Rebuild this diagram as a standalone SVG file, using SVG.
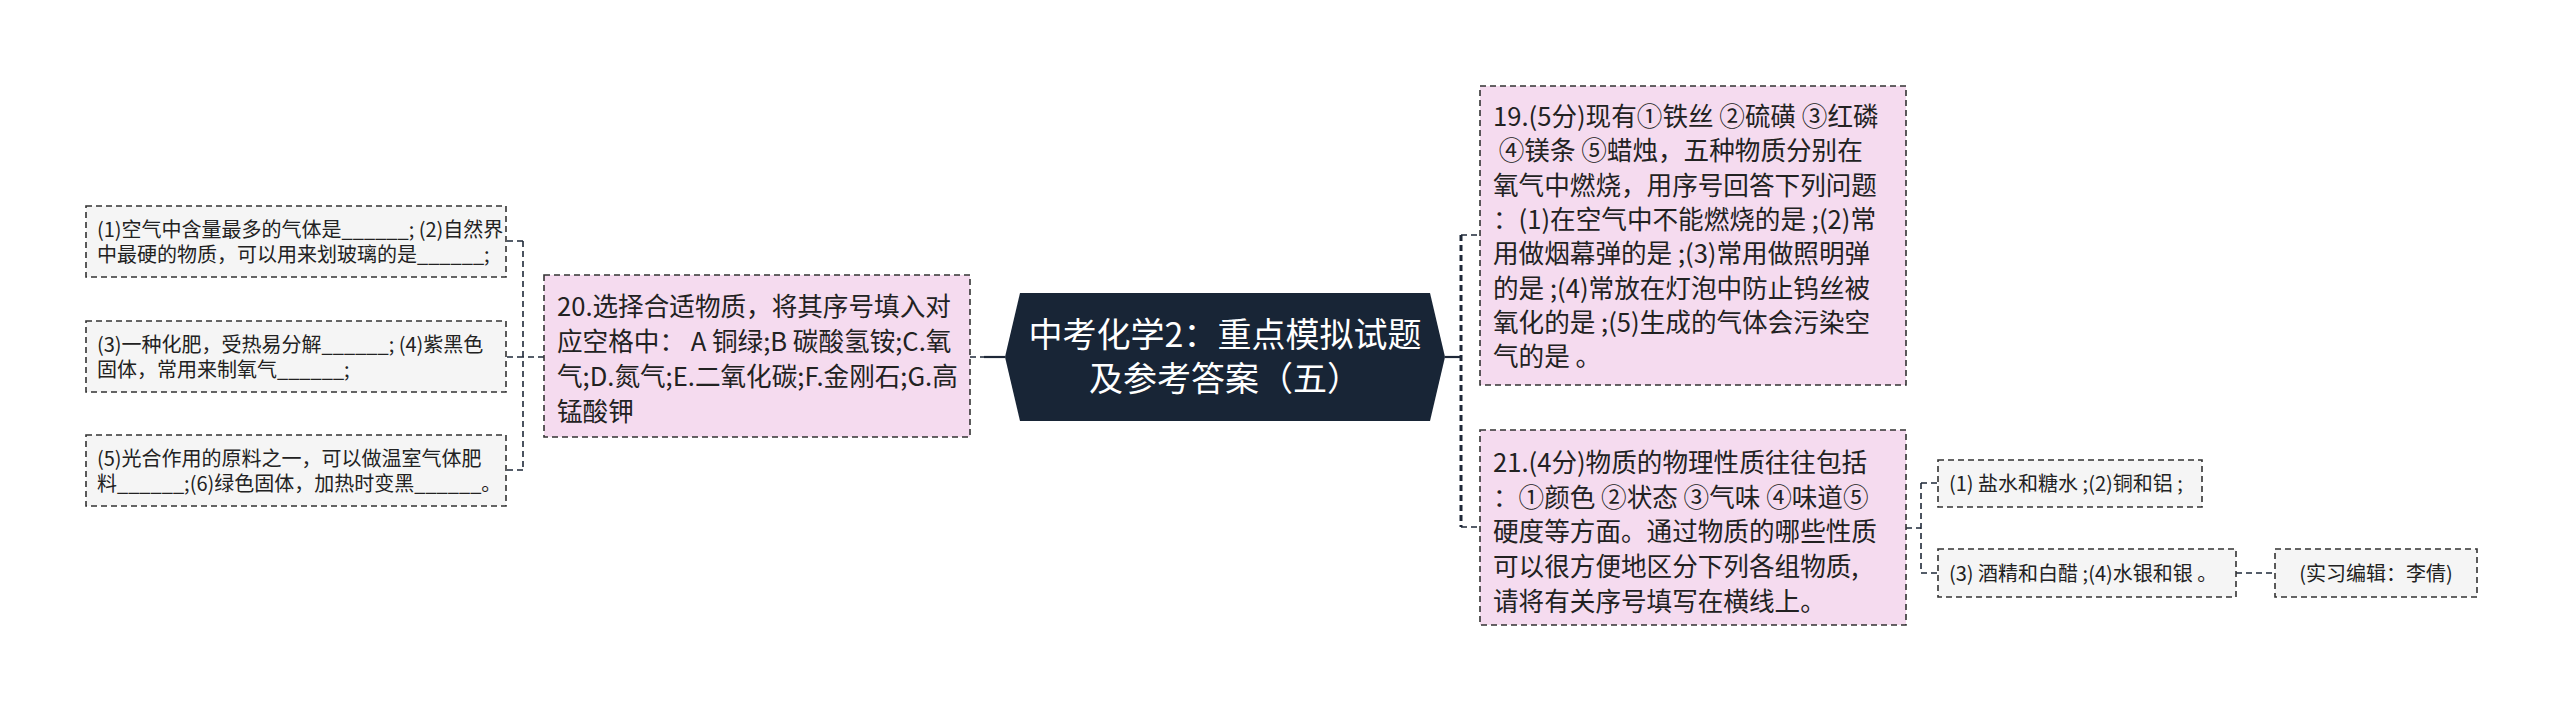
<svg xmlns="http://www.w3.org/2000/svg" width="2560" height="713" viewBox="0 0 2560 713">
<style>
.pink{fill:#f5dbef;stroke:#333;stroke-width:1.6;stroke-dasharray:6 4}
.grey{fill:#f5f5f5;stroke:#333;stroke-width:1.6;stroke-dasharray:6 4}
.t{font-family:"Noto Sans CJK SC","Noto Sans",sans-serif;fill:#222}
.big{font-size:25.6px}
.mid{font-size:20px}
.c{fill:none;stroke:#1e2838;stroke-width:1.6;stroke-dasharray:6 4}
.cs{fill:none;stroke:#1e2838;stroke-width:2.2}
</style>
<rect width="2560" height="713" fill="#ffffff"/>
<g id="connectors">
<path class="c" d="M970 357 H984"/>
<path class="cs" d="M984 357 H1005"/>
<path class="cs" d="M1445 357 H1461"/>
<path class="c" style="stroke-width:3" d="M1461 235 V527"/>
<path class="c" d="M1461 235 H1480 M1461 527 H1480"/>
<path class="c" d="M544 357 H523 M523 241 V470 M523 241 H506 M523 357 H506 M523 470 H506"/>
<path class="c" d="M1906 528 H1921 M1921 483 V573 M1921 483 H1938 M1921 573 H1938"/>
<path class="c" d="M2236 573 H2275"/>
</g>
<g id="center">
<polygon points="1005,357 1020,293 1430,293 1445,357 1430,421 1020,421" fill="#182536"/>
<text class="t" style="fill:#fff;font-size:34px" text-anchor="middle"><tspan x="1225" y="347">中考化学2：重点模拟试题</tspan><tspan x="1225" y="391">及参考答案（五）</tspan></text>
</g>
<g id="n20">
<rect class="pink" x="544" y="275" width="426" height="162"/>
<text class="t big"><tspan x="557" y="316">20.选择合适物质，将其序号填入对</tspan><tspan x="557" y="351">应空格中： A 铜绿;B 碳酸氢铵;C.氧</tspan><tspan x="557" y="386">气;D.氮气;E.二氧化碳;F.金刚石;G.高</tspan><tspan x="557" y="421">锰酸钾</tspan></text>
</g>
<g id="nA">
<rect class="grey" x="86" y="206" width="420" height="71"/>
<text class="t mid"><tspan x="97" y="236.5">(1)空气中含量最多的气体是______; (2)自然界</tspan><tspan x="97" y="261.5">中最硬的物质，可以用来划玻璃的是______;</tspan></text>
</g>
<g id="nB">
<rect class="grey" x="86" y="321" width="420" height="71"/>
<text class="t mid"><tspan x="97" y="351.5">(3)一种化肥，受热易分解______; (4)紫黑色</tspan><tspan x="97" y="376.5">固体，常用来制氧气______;</tspan></text>
</g>
<g id="nC">
<rect class="grey" x="86" y="435" width="420" height="71"/>
<text class="t mid"><tspan x="97" y="465.5">(5)光合作用的原料之一，可以做温室气体肥</tspan><tspan x="97" y="490.5">料______;(6)绿色固体，加热时变黑______。</tspan></text>
</g>
<g id="n19">
<rect class="pink" x="1480" y="86" width="426" height="299"/>
<text class="t big"><tspan x="1493" y="126">19.(5分)现有①铁丝 ②硫磺 ③红磷</tspan><tspan x="1493" y="160.3"> ④镁条 ⑤蜡烛，五种物质分别在</tspan><tspan x="1493" y="194.6">氧气中燃烧，用序号回答下列问题</tspan><tspan x="1493" y="228.9">：(1)在空气中不能燃烧的是 ;(2)常</tspan><tspan x="1493" y="263.2">用做烟幕弹的是 ;(3)常用做照明弹</tspan><tspan x="1493" y="297.5">的是 ;(4)常放在灯泡中防止钨丝被</tspan><tspan x="1493" y="331.8">氧化的是 ;(5)生成的气体会污染空</tspan><tspan x="1493" y="366.1">气的是 。</tspan></text>
</g>
<g id="n21">
<rect class="pink" x="1480" y="430" width="426" height="195"/>
<text class="t big"><tspan x="1493" y="472">21.(4分)物质的物理性质往往包括</tspan><tspan x="1493" y="506.7">：①颜色 ②状态 ③气味 ④味道⑤</tspan><tspan x="1493" y="541.4">硬度等方面。通过物质的哪些性质</tspan><tspan x="1493" y="576.1">可以很方便地区分下列各组物质,</tspan><tspan x="1493" y="610.8">请将有关序号填写在横线上。</tspan></text>
</g>
<g id="n21a">
<rect class="grey" x="1938" y="460" width="264" height="47"/>
<text class="t mid" x="1949" y="490.5">(1) 盐水和糖水 ;(2)铜和铝 ;</text>
</g>
<g id="n21b">
<rect class="grey" x="1938" y="549" width="298" height="48"/>
<text class="t mid" x="1949" y="580.5">(3) 酒精和白醋 ;(4)水银和银 。</text>
</g>
<g id="n21c">
<rect class="grey" x="2275" y="549" width="202" height="48"/>
<text class="t mid" x="2376" y="580.5" text-anchor="middle">(实习编辑：李倩)</text>
</g>
</svg>
